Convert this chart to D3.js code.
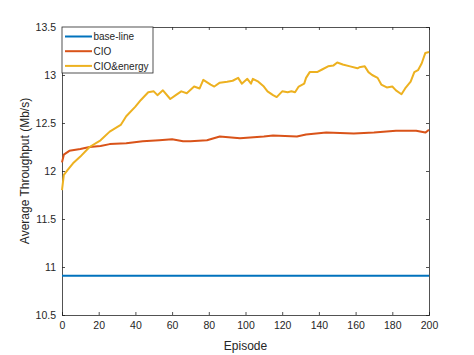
<!DOCTYPE html>
<html><head><meta charset="utf-8">
<script src="https://cdn.jsdelivr.net/npm/d3@7"></script>
<style>body{margin:0;background:#fff}svg{display:block}text{font-family:Arial,"Liberation Sans",sans-serif;fill:#262626}</style>
</head><body><svg id="c" width="474" height="355"></svg>
<script>
const xTicks = [0,20,40,60,80,100,120,140,160,180,200];
const yTicks = [10.5,11,11.5,12,12.5,13,13.5];
const seriesNames = ["base-line","CIO","CIO&energy"];
const seriesColors = ["#0072BD","#D95319","#EDB120"];
const baseEpisodes = [0,200];
const baseValues = [10.91,10.91];
const cioEpisodes = [0,1,4,10,15,21,26,35,44,53,60,66,70,79,86,97,110,115,128,133,144,159,170,182,193,198,200];
const cioValues = [12.09,12.17,12.21,12.23,12.25,12.26,12.28,12.29,12.31,12.32,12.33,12.31,12.31,12.32,12.36,12.34,12.36,12.37,12.36,12.38,12.40,12.39,12.40,12.42,12.42,12.40,12.43];
const energyEpisodes = [0,1,3,6,10,15,21,26,32,35,40,43,47,50,52,55,59,62,65,68,72,75,77,81,83,86,90,93,96,98,101,103,104,107,110,112,115,117,120,123,125,127,129,132,133,135,139,142,145,148,150,153,157,161,162,165,167,169,172,174,177,180,182,185,187,190,192,194,196,198,200];
const energyValues = [11.80,11.96,12.01,12.08,12.15,12.25,12.32,12.41,12.48,12.57,12.67,12.74,12.82,12.83,12.79,12.84,12.75,12.79,12.83,12.81,12.88,12.86,12.95,12.90,12.88,12.92,12.93,12.94,12.97,12.91,12.96,12.91,12.96,12.93,12.88,12.83,12.79,12.77,12.83,12.82,12.83,12.82,12.88,12.91,12.97,13.03,13.03,13.06,13.09,13.10,13.13,13.11,13.09,13.07,13.08,13.09,13.03,13.00,12.97,12.90,12.87,12.88,12.84,12.80,12.86,12.93,13.03,13.05,13.12,13.23,13.24];

const L=62,T=27,R=429,B=315;
const svg=d3.select("#c");
svg.append("rect").attr("width",474).attr("height",355).attr("fill","#fff");
const x=d3.scaleLinear().domain([0,200]).range([L,R]);
const y=d3.scaleLinear().domain([10.5,13.5]).range([B,T]);
const axc="#262626";
// axes
const gx=svg.append("g").attr("transform",`translate(0,${B})`)
 .call(d3.axisBottom(x).tickValues(xTicks).tickSize(-3).tickPadding(7).tickFormat(d3.format("d")));
const gy=svg.append("g").attr("transform",`translate(${L},0)`)
 .call(d3.axisLeft(y).tickValues(yTicks).tickSize(-3).tickPadding(6).tickFormat(d=>String(d)));
const gx2=svg.append("g").attr("transform",`translate(0,${T})`)
 .call(d3.axisTop(x).tickValues(xTicks).tickSize(-3).tickFormat(""));
const gy2=svg.append("g").attr("transform",`translate(${R},0)`)
 .call(d3.axisRight(y).tickValues(yTicks).tickSize(-3).tickFormat(""));
[gx,gy,gx2,gy2].forEach(g=>{g.selectAll("path").attr("stroke",axc).attr("stroke-width",0.8);
 g.selectAll("line").attr("stroke",axc).attr("stroke-width",0.8);
 g.selectAll("text").attr("font-size","10.5px").attr("fill",axc).attr("font-family","Arial, 'Liberation Sans', sans-serif");});
// lines
const line=d3.line().x(d=>x(d[0])).y(d=>y(d[1]));
const data=[d3.zip(baseEpisodes,baseValues),d3.zip(cioEpisodes,cioValues),d3.zip(energyEpisodes,energyValues)];
data.forEach((d,i)=>svg.append("path").datum(d).attr("d",line).attr("fill","none")
 .attr("stroke",seriesColors[i]).attr("stroke-width",2).attr("stroke-linejoin","round"));
// labels
svg.append("text").attr("x",(L+R)/2).attr("y",350).attr("text-anchor","middle").attr("font-size","12px").text("Episode");
svg.append("text").attr("transform",`translate(29,${(T+B)/2}) rotate(-90)`).attr("text-anchor","middle").attr("font-size","12px").text("Average Throughput (Mb/s)");
// legend
const lg=svg.append("g");
lg.append("rect").attr("x",L).attr("y",T).attr("width",91).attr("height",46).attr("fill","#fff").attr("stroke",axc).attr("stroke-width",0.8);
seriesNames.forEach((n,i)=>{
 const yy=T+9.5+i*14.7;
 lg.append("line").attr("x1",65).attr("x2",92).attr("y1",yy).attr("y2",yy).attr("stroke",seriesColors[i]).attr("stroke-width",2);
 lg.append("text").attr("x",93.5).attr("y",yy+3.6).attr("font-size","10px").attr("fill","#000").text(n);
});
</script></body></html>
